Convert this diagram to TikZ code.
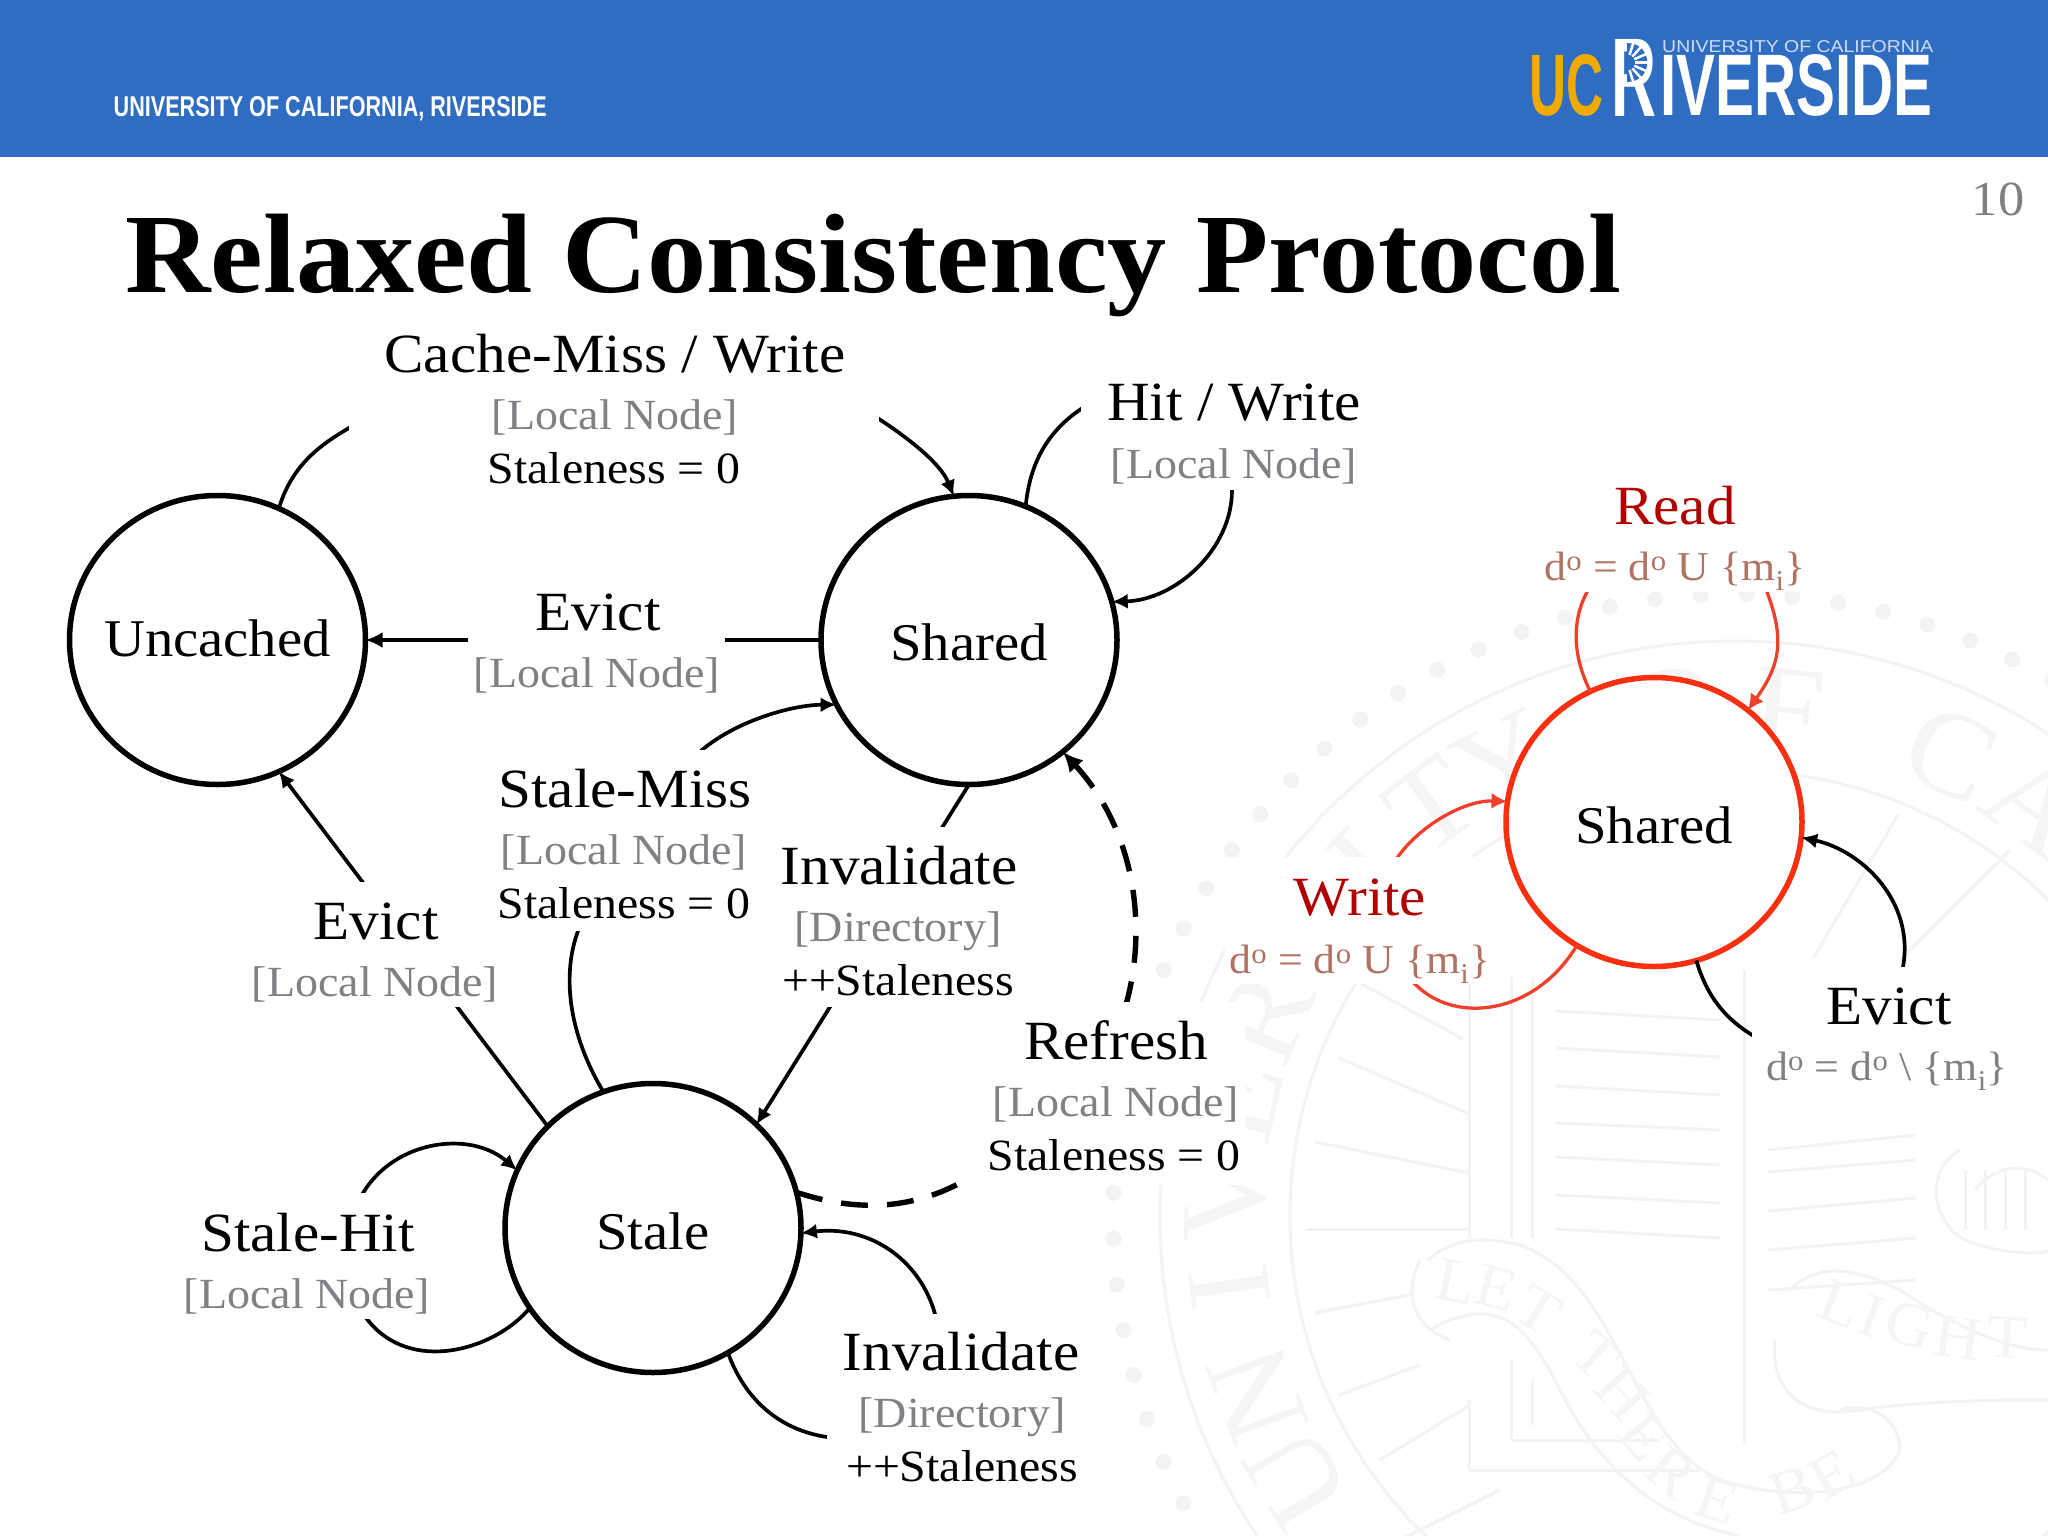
\documentclass[tikz,border=0pt]{standalone}
\usepackage{fontspec}
\usepackage{graphicx}
\setmainfont[FakeStretch=1.07]{Liberation Serif}
\newfontfamily\titlefont[FakeStretch=1.047]{Liberation Serif}
\newfontfamily\logofont{Liberation Sans}
\usetikzlibrary{shapes.geometric,arrows.meta}
\definecolor{bannerblue}{HTML}{2E6DC1}
\definecolor{logogold}{HTML}{F1AB00}
\definecolor{logopale}{HTML}{CFDCF0}
\definecolor{subgrey}{HTML}{808085}
\definecolor{deepred}{HTML}{B00000}
\definecolor{brick}{HTML}{B07362}
\definecolor{hotred}{HTML}{F8300F}
\definecolor{loopred}{HTML}{F0402C}
\definecolor{seal}{HTML}{F3F3F5}
\definecolor{sealtext}{HTML}{F5F5F6}
\tikzset{
  x=1pt,y=-1pt,
  state/.style={ellipse,draw=black,fill=white,line width=5.5pt,inner sep=0pt,outer sep=0pt,
    minimum width=296pt,minimum height=289pt,text=black,text depth=0pt,
    font=\fontsize{53}{58}\selectfont},
  hotstate/.style={state,draw=hotred},
  head/.style={anchor=base,inner sep=0pt,font=\fontsize{55.3}{60}\selectfont},
  sub/.style={anchor=base,inner sep=0pt,text=subgrey,font=\fontsize{43}{48}\selectfont},
  small/.style={anchor=base,inner sep=0pt,font=\fontsize{44.7}{48}\selectfont},
  dline/.style={anchor=base,inner sep=0pt,font=\fontsize{41}{48}\selectfont},
  arc line/.style={line width=3.7pt,-{Latex[length=16pt,width=15pt]}},
  thick arc/.style={line width=4.8pt,-{Latex[length=17pt,width=16pt]}},
  dashed arc/.style={line width=5.4pt,dash pattern=on 27pt off 19pt,-{Latex[length=20pt,width=19pt]}},
  red arc/.style={line width=3.3pt,draw=loopred,-{Latex[length=16pt,width=16pt]}},
  maskbox/.style={fill=white},
  sealline/.style={draw=seal,line width=3pt},
  sealletter/.style={text=sealtext,inner sep=0pt,font=\fontsize{120}{130}\selectfont},
  ribbonletter/.style={text=sealtext,inner sep=0pt,font=\fontsize{62}{66}\selectfont},
}
\newcommand{\dform}[1]{d\textsuperscript{o} = d\textsuperscript{o} #1 \{m\textsubscript{i}\}}
\newcommand{\statetext}[1]{\makebox[0pt][c]{#1}}
\begin{document}
\begin{tikzpicture}
\useasboundingbox (0,0) rectangle (2048,1536);
\fill[white] (0,0) rectangle (2048,1536);

% --- watermark seal
\begin{scope}
\clip (0,158) rectangle (2048,1536);
\begin{scope}[shift={(1735,1216)},x=1pt,y=1pt]
  \draw[sealline] (0,0) circle[radius=575];
  \draw[sealline] (0,0) circle[radius=445];
  \foreach \k in {0,...,84} \fill[seal] (\k*4.235:622) circle[radius=8];
  \foreach \ch/\ang in {U/211,N/200.5,I/188,V/178,E/167,R/157,S/147,I/136.5,T/126.5,Y/117,O/97,F/84,C/65,A/54}
    \node[sealletter,rotate=\ang-90] at (\ang:510) {\ch};
\end{scope}
\foreach \a/\b/\c/\d in {1556/1011/1720/1020,1556/1048/1720/1057,1556/1086/1720/1095,1556/1123/1720/1130,1556/1157/1720/1165,1556/1195/1720/1203,1556/1229/1720/1238,
  1768/1150/1916/1135,1768/1172/1916/1160,1768/1211/1916/1198,1768/1250/1916/1238,1768/1290/1916/1280}
  \draw[sealline] (\a,\b) -- (\c,\d);
\foreach \a/\b/\c/\d in {1744/970/1744/1443,1469/977/1469/1238,1511/977/1511/1238,1532/977/1532/1238,
  1469/1400/1469/1470,1511/1360/1511/1440,1532/1380/1532/1425,1469/1470/1700/1470,1511/1440/1660/1440,
  1339/1058/1469/1114,1315/1142/1469/1173,1306/1229/1469/1229,1315/1313/1414/1294,1339/1395/1420/1365,1360/983/1463/1039,
  1813/958/1898/815,1900/960/2010/850,1380/1460/1470/1405,1400/1540/1500/1490}
  \draw[sealline] (\a,\b) -- (\c,\d);
\draw[sealline] (1420,1260) .. controls (1400,1300) and (1420,1330) .. (1450,1340);
\draw[sealline] (1428,1260) .. controls (1450,1240) and (1480,1235) .. (1520,1245)
  .. controls (1620,1280) and (1630,1440) .. (1720,1480)
  .. controls (1780,1500) and (1880,1500) .. (1900,1450)
  .. controls (1900,1420) and (1870,1400) .. (1840,1410);
\draw[sealline] (1430,1330) .. controls (1500,1290) and (1530,1330) .. (1560,1390)
  .. controls (1600,1470) and (1660,1520) .. (1740,1536);
\draw[sealline] (1790,1290) .. controls (1820,1260) and (1860,1270) .. (1900,1290)
  .. controls (1960,1330) and (2010,1350) .. (2048,1350);
\draw[sealline] (1775,1340) .. controls (1770,1390) and (1800,1420) .. (1860,1410)
  .. controls (1930,1400) and (2000,1400) .. (2048,1400);
\draw[sealline] (1960,1150) .. controls (1925,1170) and (1930,1220) .. (1965,1240)
  .. controls (2000,1255) and (2048,1255) .. (2048,1250);
\draw[sealline] (1975,1190) .. controls (2000,1160) and (2030,1165) .. (2048,1180);
\foreach \a in {1965,1985,2005,2025} \draw[sealline] (\a,1170) -- (\a,1230);
\foreach \ch/\px/\py/\rr in {L/1457/1282/-12,E/1496/1288/-15,T/1538/1310/-32,T/1596/1356/-42,H/1623/1394/-48,E/1644/1437/-50,R/1671/1472/-40,E/1717/1500/-18,B/1792/1490/18,E/1832/1475/30,
  L/1841/1304/-22,I/1872/1316/-20,G/1910/1325/-15,H/1958/1338/-8,T/2007/1338/-4}
  \node[ribbonletter,rotate=\rr] at (\px,\py) {\ch};
\end{scope}

% --- banner
\fill[bannerblue] (0,0) rectangle (2048,157);
\node[anchor=south west,inner sep=0pt,text=logogold] (logouc) at (1529,117) {\resizebox{74pt}{61pt}{\logofont\bfseries UC}};
\node[anchor=south west,inner sep=0pt,text=white] (logor) at (1611,117) {\resizebox{45pt}{77pt}{\logofont\bfseries R}};
\node[anchor=south west,inner sep=0pt,text=white] (logorest) at (1660,117) {\resizebox{272pt}{61pt}{\logofont\bfseries IVERSIDE}};
\node[anchor=south west,inner sep=0pt,text=logopale] (logouni) at (1662,53) {\resizebox{271pt}{12pt}{\logofont UNIVERSITY OF CALIFORNIA}};
\fill[bannerblue] (1627,43) .. controls (1654,43) and (1654,82) .. (1627,82) -- cycle;
\begin{scope}[shift={(1627,62.5)},x=1pt,y=1pt]
  \foreach \t in {-72,-48,-24,0,24,48,72} \draw[white,line width=2.5pt] (\t:8) -- (\t:21);
\end{scope}
\node[anchor=base west,inner sep=0pt,text=white] (footer) at (113.5,117) {\resizebox{433pt}{20pt}{\logofont\bfseries UNIVERSITY OF CALIFORNIA, RIVERSIDE}};

\node[anchor=base,inner sep=0pt,text=black!50,font=\fontsize{49}{54}\selectfont] (pagenum) at (1998,215) {10};
\node[anchor=base west,inner sep=0pt,font=\titlefont\fontsize{113}{120}\selectfont\bfseries] (slidetitle) at (125,292) {Relaxed Consistency Protocol};

% --- states
\node[state,text height=33pt] (uncached) at (217.5,640) {\statetext{Uncached}};
\node[state,text height=41pt] (shared) at (969,640) {\statetext{Shared}};
\node[state,text height=43pt] (stale) at (653,1228) {\statetext{Stale}};
\node[hotstate,text height=42pt] (redshared) at (1654,822) {\statetext{Shared}};

% --- connectors (the label boxes drawn afterwards hide their middles)
\draw[arc line] (uncached.65) .. controls (292,465) and (320,445) .. (349,428)
  .. controls (500,340) and (760,340) .. (879,419) .. controls (905,436) and (940,462) .. (shared.96);
\draw[arc line] (shared.67) .. controls (1030,460) and (1050,430) .. (1081,409)
  .. controls (1130,375) and (1232,400) .. (1232,490) .. controls (1232,550) and (1175,600) .. (shared.15);
\draw[thick arc] (shared.west) -- (uncached.east);
\draw[arc line] (stale.136) -- (uncached.295);
\draw[arc line] (stale.110) .. controls (572,1040) and (560,980) .. (578,931)
  .. controls (600,860) and (650,800) .. (702,750) .. controls (735,722) and (790,705) .. (shared.206);
\draw[arc line] (shared.-90) -- (stale.45);
\draw[dashed arc] (stale.14) .. controls (850,1210) and (905,1212) .. (960,1183)
  .. controls (1040,1140) and (1110,1060) .. (1127,1001) .. controls (1147,925) and (1135,830) .. (shared.310);
\draw[arc line] (stale.213) .. controls (495,1350) and (410,1375) .. (367,1319)
  .. controls (340,1290) and (330,1240) .. (363,1193) .. controls (395,1140) and (470,1130) .. (stale.157);
\draw[arc line] (stale.301) .. controls (745,1400) and (780,1430) .. (827,1437)
  .. controls (900,1450) and (950,1400) .. (935,1314) .. controls (920,1260) and (870,1225) .. (stale.358);
\draw[red arc] (redshared.116) .. controls (1572,655) and (1572,620) .. (1587,592)
  .. controls (1620,520) and (1740,520) .. (1767,592) .. controls (1785,640) and (1780,665) .. (redshared.50);
\draw[red arc] (redshared.238) .. controls (1535,1015) and (1455,1025) .. (1415,984)
  .. controls (1380,960) and (1370,900) .. (1397,858) .. controls (1420,825) and (1465,800) .. (redshared.172);
\draw[arc line] (redshared.287) .. controls (1708,1000) and (1728,1020) .. (1752,1035)
  .. controls (1800,1060) and (1890,1040) .. (1903,967) .. controls (1915,900) and (1860,850) .. (redshared.354);

% --- label boxes
\fill[maskbox] (349,322) rectangle (879,495);
\fill[maskbox] (1081,370) rectangle (1360,490);
\fill[maskbox] (468,590) rectangle (725,700);
\fill[maskbox] (250,882) rectangle (497,1007);
\fill[maskbox] (495,750) rectangle (770,931);
\fill[maskbox] (775,827) rectangle (1032,1007);
\fill[maskbox] (960,1002) rectangle (1245,1185);
\fill[maskbox] (185,1193) rectangle (431,1319);
\fill[maskbox] (827,1314) rectangle (1100,1490);
\fill[maskbox] (1535,475) rectangle (1812,592);
\fill[maskbox] (1225,857) rectangle (1495,984);
\fill[maskbox] (1752,967) rectangle (2022,1096);

% --- labels
\node[head] (l1a) at (615,372) {Cache-Miss / Write};
\node[sub] (l1b) at (615,429) {[Local Node]};
\node[small] (l1c) at (614,483) {Staleness = 0};
\node[head] (l2a) at (1234,420) {Hit / Write};
\node[sub] (l2b) at (1234,478) {[Local Node]};
\node[head] (l3a) at (598,630) {Evict};
\node[sub] (l3b) at (597,687) {[Local Node]};
\node[head] (l4a) at (625,807) {Stale-Miss};
\node[sub] (l4b) at (624,864) {[Local Node]};
\node[small] (l4c) at (624,918) {Staleness = 0};
\node[head] (l5a) at (899,884) {Invalidate};
\node[sub] (l5b) at (898,941) {[Directory]};
\node[small] (l5c) at (898,995) {++Staleness};
\node[head] (l6a) at (376,939) {Evict};
\node[sub] (l6b) at (375,996) {[Local Node]};
\node[head] (l7a) at (1116,1059) {Refresh};
\node[sub] (l7b) at (1116,1116) {[Local Node]};
\node[small] (l7c) at (1114,1170) {Staleness = 0};
\node[head] (l8a) at (308,1251) {Stale-Hit};
\node[sub] (l8b) at (307,1308) {[Local Node]};
\node[head] (l9a) at (961,1370) {Invalidate};
\node[sub] (l9b) at (962,1427) {[Directory]};
\node[small] (l9c) at (962,1481) {++Staleness};
\node[head,text=deepred] (r1a) at (1675,524) {Read};
\node[dline,text=brick] (r1b) at (1675,580) {\dform{U}};
\node[head,text=deepred] (r2a) at (1360,915) {Write};
\node[dline,text=brick] (r2b) at (1360,973) {\dform{U}};
\node[head] (r3a) at (1889,1024) {Evict};
\node[dline,text=subgrey] (r3b) at (1887,1080) {\dform{\textbackslash}};
\end{tikzpicture}
\end{document}
